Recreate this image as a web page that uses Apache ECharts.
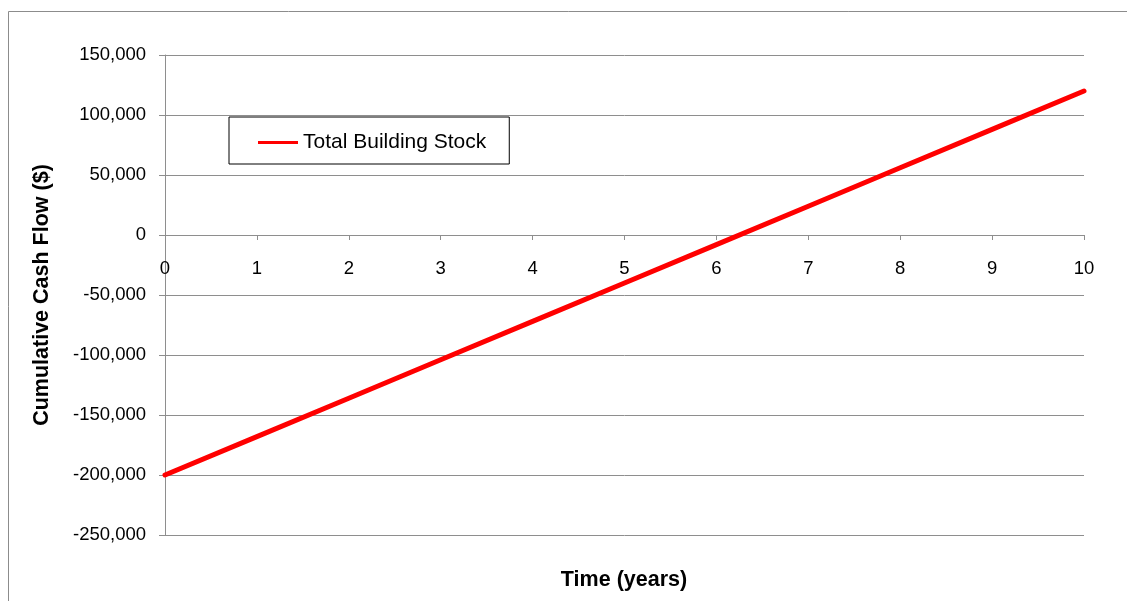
<!DOCTYPE html>
<html>
<head>
<meta charset="utf-8">
<style>
  html, body { margin: 0; padding: 0; background: #ffffff; }
  #chart { width: 1127px; height: 601px; }
</style>
<script src="https://cdn.jsdelivr.net/npm/echarts@6/dist/echarts.min.js"></script>
</head>
<body>
<div id="chart"></div>
<script>
// Years since the investment
const years = [0, 1, 2, 3, 4, 5, 6, 7, 8, 9, 10];
// Cumulative cash flow of the total building stock ($)
const cashFlow = [-200000, -168000, -136000, -104000, -72000, -40000, -8000, 24000, 56000, 88000, 120000];
const seriesName = 'Total Building Stock';
const xTitle = 'Time (years)';
const yTitle = 'Cumulative Cash Flow ($)';

const FONT = '"Liberation Sans", Arial, sans-serif';
const GRID_COLOR = '#8e8e8e';

const GRID_TOP = 55;
const GRID_BOTTOM = 66;
const CHART_H = 601;
const Y_MIN = -250000;
const Y_MAX = 150000;

// Shift the x axis (line, ticks and labels) up to the y = 0 level of the plot
const plotH = CHART_H - GRID_TOP - GRID_BOTTOM;
const zeroOffset = -plotH * (0 - Y_MIN) / (Y_MAX - Y_MIN);

const chart = echarts.init(document.getElementById('chart'), null, { renderer: 'canvas' });

const points = years.map((y, i) => [y, cashFlow[i]]);

chart.setOption({
  animation: false,
  backgroundColor: '#ffffff',
  grid: { left: 165, right: 43, top: GRID_TOP, bottom: GRID_BOTTOM, containLabel: false },
  legend: {
    left: 229,
    top: 117,
    orient: 'horizontal',
    data: [{ name: seriesName, icon: 'rect' }],
    itemWidth: 40,
    itemHeight: 3,
    itemGap: 5,
    padding: [15, 23, 11, 29],
    borderColor: '#000000',
    borderWidth: 1,
    backgroundColor: '#ffffff',
    textStyle: { fontFamily: FONT, fontSize: 21, color: '#000000' }
  },
  xAxis: {
    type: 'value',
    position: 'bottom',
    offset: zeroOffset,
    min: 0,
    max: 10,
    interval: 1,
    axisLine: { show: true, onZero: false, lineStyle: { color: GRID_COLOR, width: 1 } },
    axisTick: { show: true, inside: false, length: 5, lineStyle: { color: GRID_COLOR } },
    axisLabel: {
      margin: 24,
      fontFamily: FONT,
      fontSize: 18.5,
      color: '#000000'
    },
    splitLine: { show: false }
  },
  yAxis: {
    type: 'value',
    min: Y_MIN,
    max: Y_MAX,
    interval: 50000,
    axisLine: { show: true, lineStyle: { color: GRID_COLOR, width: 1 } },
    axisTick: { show: true, inside: false, length: 6, lineStyle: { color: GRID_COLOR } },
    axisLabel: {
      margin: 19,
      padding: [5, 0, 0, 0],
      fontFamily: FONT,
      fontSize: 18.5,
      color: '#000000',
      formatter: v => v.toLocaleString('en-US')
    },
    splitLine: { show: true, lineStyle: { color: GRID_COLOR, width: 1 } }
  },
  series: [{
    name: seriesName,
    type: 'line',
    data: points,
    showSymbol: false,
    symbol: 'none',
    color: '#ff0000',
    lineStyle: { color: '#ff0000', width: 5, cap: 'round' },
    z: 5
  }],
  graphic: [
    {
      type: 'rect',
      silent: true,
      z: -10,
      shape: { x: 8.5, y: 11.5, width: 1200, height: 700 },
      style: { fill: 'none', stroke: '#8c8c8c', lineWidth: 1 }
    },
    {
      type: 'text',
      x: 624,
      y: 580,
      style: {
        text: xTitle,
        fontFamily: FONT,
        fontWeight: 'bold',
        fontSize: 21.5,
        fill: '#000000',
        align: 'center',
        verticalAlign: 'middle'
      }
    },
    {
      type: 'text',
      x: 42,
      y: 295,
      rotation: Math.PI / 2,
      style: {
        text: yTitle,
        fontFamily: FONT,
        fontWeight: 'bold',
        fontSize: 21.5,
        fill: '#000000',
        align: 'center',
        verticalAlign: 'middle'
      }
    }
  ]
});
</script>
</body>
</html>
